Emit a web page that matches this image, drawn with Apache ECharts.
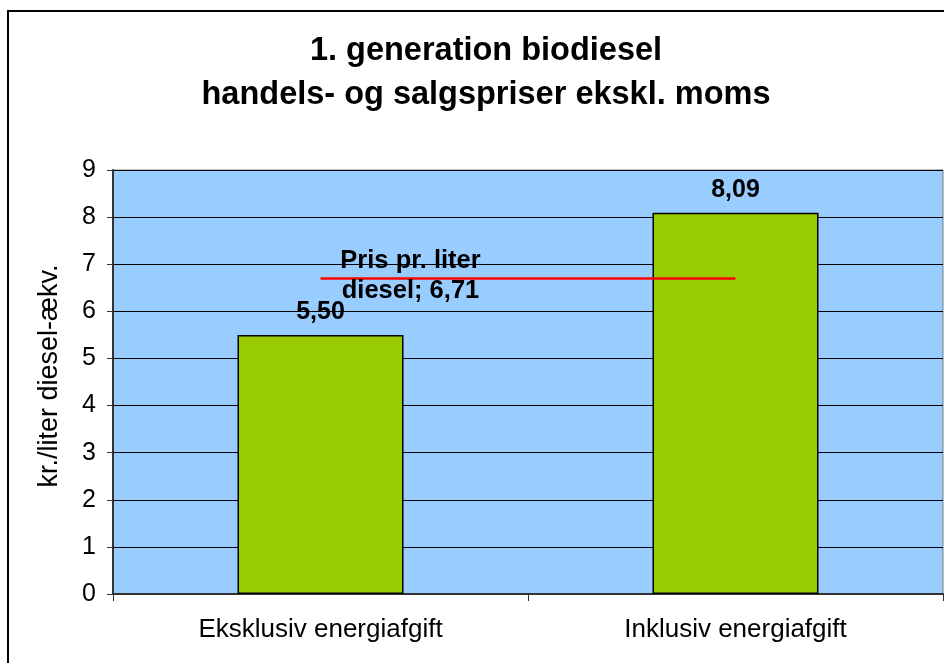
<!DOCTYPE html>
<html>
<head>
<meta charset="utf-8">
<script src="https://cdn.jsdelivr.net/npm/echarts@6/dist/echarts.min.js"></script>
<style>
html,body{margin:0;padding:0;background:#fff;}
#chart{width:944px;height:663px;}
</style>
</head>
<body>
<div id="chart"></div>
<script>
const titleLines = ['1. generation biodiesel', 'handels- og salgspriser ekskl. moms'];
const categories = ['Eksklusiv energiafgift', 'Inklusiv energiafgift'];
const values = [5.50, 8.09];
const dieselPrice = 6.71;
const dieselLabel = ['Pris pr. liter', 'diesel; 6,71'];
const yAxisName = 'kr./liter diesel-ækv.';
const yMin = 0, yMax = 9, yInterval = 1;

const FONT = '"Liberation Sans", Arial, sans-serif';
const fmt = v => v.toFixed(2).replace('.', ',');

const chart = echarts.init(document.getElementById('chart'), null, {renderer: 'canvas'});
chart.setOption({
  animation: false,
  backgroundColor: '#ffffff',
  textStyle: {fontFamily: FONT},
  graphic: [{
    type: 'rect', silent: true, z: -10,
    shape: {x: 8, y: 11, width: 1000, height: 700},
    style: {fill: 'none', stroke: '#000', lineWidth: 2}
  }],
  title: {
    text: titleLines.join('\n'),
    left: 481, top: 24, textAlign: 'center',
    textStyle: {fontFamily: FONT, fontSize: 32.5, fontWeight: 'bold', color: '#000', lineHeight: 44}
  },
  grid: {
    left: 113, right: 1, top: 170, bottom: 69,
    show: true, backgroundColor: '#99ccff', borderColor: '#808080', borderWidth: 1
  },
  xAxis: {
    type: 'category', data: categories,
    axisLine: {show: true, lineStyle: {color: '#333', width: 2}},
    axisTick: {show: true, length: 7, lineStyle: {color: '#333'}},
    axisLabel: {fontFamily: FONT, fontSize: 26, color: '#000', margin: 23}
  },
  yAxis: {
    type: 'value', min: yMin, max: yMax, interval: yInterval,
    name: yAxisName, nameLocation: 'middle', nameGap: 50, nameRotate: 90,
    nameTextStyle: {fontFamily: FONT, fontSize: 27, color: '#000', padding: [0, 0, 0, 12]},
    axisLine: {show: true, lineStyle: {color: '#333', width: 2}},
    axisTick: {show: true, length: 6, lineStyle: {color: '#333'}},
    axisLabel: {fontFamily: FONT, fontSize: 25, color: '#000', margin: 17},
    splitLine: {show: true, lineStyle: {color: '#000', width: 1}}
  },
  series: [{
    type: 'bar', data: values, barWidth: '40%',
    itemStyle: {color: '#99cc00', borderColor: '#000', borderWidth: 1.5},
    label: {
      show: true, position: 'top', distance: 10,
      formatter: p => fmt(p.value),
      fontFamily: FONT, fontSize: 25, fontWeight: 'bold', color: '#000'
    },
    markLine: {
      silent: true, symbol: 'none', z: 5,
      lineStyle: {color: '#ff0000', width: 2.5, type: 'solid'},
      label: {show: false},
      data: [[{coord: [0, dieselPrice]}, {coord: [1, dieselPrice]}]]
    },
    markPoint: {
      silent: true, symbol: 'circle', symbolSize: 0,
      itemStyle: {color: 'transparent'},
      label: {
        show: true, position: 'inside', offset: [90, -2],
        formatter: dieselLabel.join('\n'),
        fontFamily: FONT, fontSize: 25.5, fontWeight: 'bold', color: '#000', lineHeight: 30
      },
      data: [{coord: [0, dieselPrice], value: dieselPrice}]
    }
  }]
});
</script>
</body>
</html>
